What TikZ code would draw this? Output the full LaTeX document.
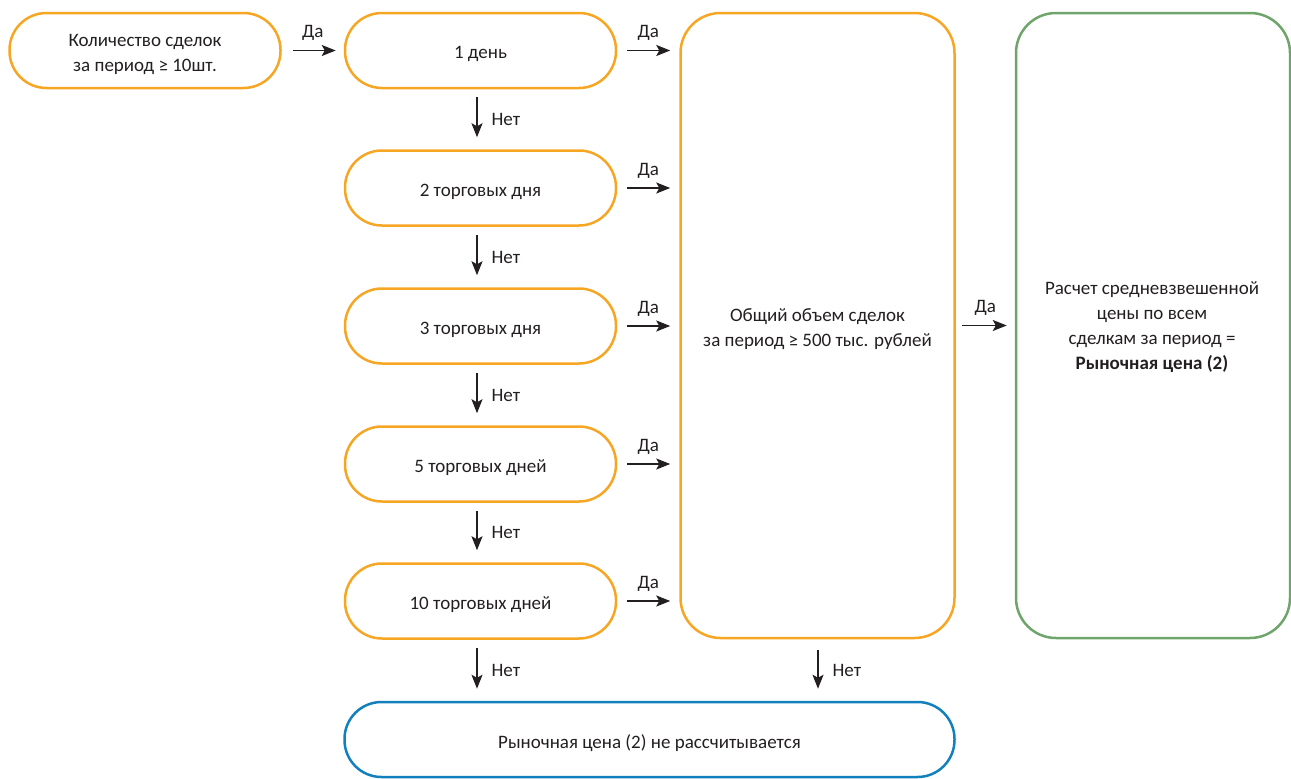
\documentclass[tikz,border=0pt]{standalone}
\usepackage{fontspec}
\setmainfont{Carlito}
\usetikzlibrary{arrows.meta}
\definecolor{orng}{HTML}{F6A623}
\definecolor{grn}{HTML}{6FA46A}
\definecolor{blu}{HTML}{1380BE}
\definecolor{txt}{HTML}{231F20}
\tikzset{
  pill/.style={draw=orng, line width=2.5pt, rectangle, rounded corners=37pt, minimum width=271pt, minimum height=75pt, inner sep=0pt},
  bigbox/.style={draw=#1, line width=2.5pt, rectangle, rounded corners=40pt, inner sep=0pt},
  txtl/.style={align=center, text=txt, inner sep=0pt, yshift=-3.5pt},
  arr/.style={-{Stealth[length=14pt,width=11pt,inset=3pt]}, line width=1.3pt, draw=txt},
  lbl/.style={text=txt, inner sep=0pt}
}
\begin{document}
\begin{tikzpicture}[x=1pt,y=-1pt, font=\fontsize{19}{25}\selectfont]
\useasboundingbox (0,0) rectangle (1291,779);
\node[pill, label={[txtl]center:{Количество сделок\\за период ≥ 10шт.}}] (q) at (145,50.5) {};
\node[pill, label={[txtl]center:{1 день}}] (d1) at (480.5,50.5) {};
\node[pill, label={[txtl]center:{2 торговых дня}}] (d2) at (480.5,188) {};
\node[pill, label={[txtl]center:{3 торговых дня}}] (d3) at (480.5,326) {};
\node[pill, label={[txtl]center:{5 торговых дней}}] (d5) at (480.5,464) {};
\node[pill, label={[txtl]center:{10 торговых дней}}] (d10) at (480.5,601) {};
\node[bigbox=orng, minimum width=274pt, minimum height=625pt, label={[txtl]center:{Общий объем сделок\\за период ≥ 500 тыс. рублей}}] (vol) at (817.5,325.5) {};
\node[bigbox=grn, minimum width=274pt, minimum height=625pt, label={[txtl, xshift=-1pt, yshift=1.5pt]center:{Расчет средневзвешенной\\цены по всем\\сделкам за период =\\\textbf{Рыночная цена (2)}}}] (res) at (1153,325.5) {};
\node[draw=blu, line width=2.5pt, rectangle, rounded corners=37pt, minimum width=610pt, minimum height=75pt, inner sep=0pt, label={[txtl]center:{Рыночная цена (2) не рассчитывается}}] (no) at (649.5,739.5) {};

\draw[arr, shorten <=11pt, shorten >=8pt] (q.east) -- (d1.west) node[lbl, midway, above=9pt] {Да};
\foreach \n in {d1,d2,d3,d5,d10}{
  \draw[arr, shorten <=10pt, shorten >=9pt] (\n.east) -- (\n.east -| vol.west) node[lbl, midway, above=9pt] {Да};
}
\draw[arr, shorten <=6pt, shorten >=8pt] (vol.east) -- (vol.east -| res.west) node[lbl, midway, above=9pt] {Да};
\foreach \a/\b in {d1/d2,d2/d3,d3/d5,d5/d10,d10/no}{
  \draw[arr, shorten <=8pt, shorten >=12pt] ([xshift=-3.5pt]\a.south) -- ([xshift=-3.5pt]\a.south |- \b.north) node[lbl, midway, right=14pt] {Нет};
}
\draw[arr, shorten <=11pt, shorten >=12pt] ([xshift=0.5pt]vol.south) -- ([xshift=0.5pt]vol.south |- no.north) node[lbl, midway, right=14pt] {Нет};
\end{tikzpicture}
\end{document}
